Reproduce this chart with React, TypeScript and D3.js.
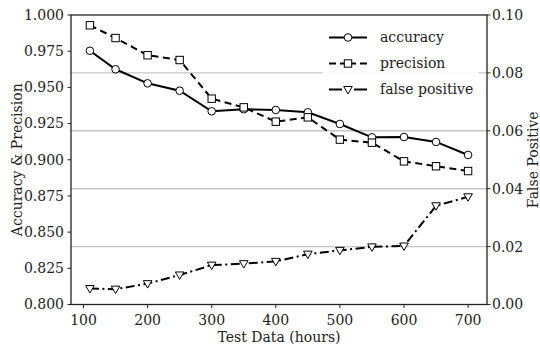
import React from "react";
import * as d3 from "d3";

const hours = [110, 150, 200, 250, 300, 350, 400, 450, 500, 550, 600, 650, 700];
const accuracy = [0.9753, 0.9625, 0.9528, 0.9477, 0.9335, 0.9349, 0.9344, 0.9328, 0.9247, 0.9155, 0.9157, 0.9123, 0.9033];
const precision = [0.9929, 0.9841, 0.9722, 0.9689, 0.9422, 0.9362, 0.9263, 0.9293, 0.9139, 0.9118, 0.8989, 0.8955, 0.8922];
const falsePositive = [0.0055, 0.0053, 0.0072, 0.0102, 0.0136, 0.0141, 0.0149, 0.0174, 0.0187, 0.0199, 0.0202, 0.0341, 0.0372];
const xTicks = [100, 200, 300, 400, 500, 600, 700];
const leftTicks = [0.8, 0.825, 0.85, 0.875, 0.9, 0.925, 0.95, 0.975, 1.0];
const rightTicks = [0.0, 0.02, 0.04, 0.06, 0.08, 0.1];

const W = 540, H = 349;
const L = 71, R = 487, T = 15, B = 304.5;
const FONT = "'DejaVu Serif', serif";
const FS = 14;

export default function App() {
  const x = d3.scaleLinear().domain([80.5, 729.5]).range([L, R]);
  const yL = d3.scaleLinear().domain([0.8, 1.0]).range([B, T]);
  const yR = d3.scaleLinear().domain([0, 0.1]).range([B, T]);

  const lineL = d3.line<number>().x((_, i) => x(hours[i])).y((d) => yL(d));
  const lineR = d3.line<number>().x((_, i) => x(hours[i])).y((d) => yR(d));

  const circle = (cx: number, cy: number, k: string) => (
    <circle key={k} cx={cx} cy={cy} r={3.8} fill="white" stroke="black" strokeWidth={1} />
  );
  const square = (cx: number, cy: number, k: string) => (
    <rect key={k} x={cx - 3.7} y={cy - 3.7} width={7.4} height={7.4} fill="white" stroke="black" strokeWidth={1} />
  );
  const tri = (cx: number, cy: number, k: string) => (
    <path key={k} d={`M${cx - 4.3},${cy - 3} L${cx + 4.3},${cy - 3} L${cx},${cy + 4.4} Z`} fill="white" stroke="black" strokeWidth={1} />
  );

  const legendItems = [
    { label: "accuracy", m: circle, y: 37.5 },
    { label: "precision", m: square, y: 63.5 },
    { label: "false positive", m: tri, y: 89.5 },
  ];

  const ts: React.CSSProperties = { fontFamily: FONT, fontSize: FS };

  return (
    <svg width={W} height={H} style={{ position: "absolute", left: 0, top: 0 }}>
      <rect width={W} height={H} fill="white" />
      {rightTicks.filter((t) => t > 0 && t < 0.1).map((t) => (
        <line key={t} x1={L} x2={R} y1={yR(t)} y2={yR(t)} stroke="#c4c4c4" strokeWidth={1.4} />
      ))}
      <path d={lineL(accuracy) || ""} fill="none" stroke="black" strokeWidth={2} />
      <path d={lineL(precision) || ""} fill="none" stroke="black" strokeWidth={2} strokeDasharray="7,4.5" />
      <path d={lineR(falsePositive) || ""} fill="none" stroke="black" strokeWidth={2} strokeDasharray="9,3.5,2,3.5" />
      {accuracy.map((v, i) => circle(x(hours[i]), yL(v), "a" + i))}
      {precision.map((v, i) => square(x(hours[i]), yL(v), "p" + i))}
      {falsePositive.map((v, i) => tri(x(hours[i]), yR(v), "f" + i))}
      <rect x={322} y={24} width={157} height={77} fill="white" fillOpacity={0.85} />
      {legendItems.map((it, i) => (
        <g key={it.label}>
          {i === 2 ? (
            <g>
              <line x1={329} x2={342} y1={it.y} y2={it.y} stroke="black" strokeWidth={2} />
              <line x1={354} x2={367} y1={it.y} y2={it.y} stroke="black" strokeWidth={2} />
            </g>
          ) : i === 1 ? (
            <g>
              <line x1={329} x2={336} y1={it.y} y2={it.y} stroke="black" strokeWidth={2} />
              <line x1={340} x2={356} y1={it.y} y2={it.y} stroke="black" strokeWidth={2} />
              <line x1={360} x2={367} y1={it.y} y2={it.y} stroke="black" strokeWidth={2} />
            </g>
          ) : (
            <line x1={329} x2={367} y1={it.y} y2={it.y} stroke="black" strokeWidth={2} />
          )}
          {it.m(348, it.y, "lm" + i)}
          <text x={380} y={it.y} dy="0.32em" style={ts} fill="#222">{it.label}</text>
        </g>
      ))}
      <rect x={L} y={T} width={R - L} height={B - T} fill="none" stroke="#222" strokeWidth={1.3} />
      {xTicks.map((t) => (
        <g key={t}>
          <line x1={x(t)} x2={x(t)} y1={B} y2={B + 3.5} stroke="#222" strokeWidth={1} />
          <text x={x(t)} y={324.5} textAnchor="middle" style={ts} fill="#222">{t}</text>
        </g>
      ))}
      <text x={(L + R) / 2} y={342} textAnchor="middle" style={ts} fill="#222">Test Data (hours)</text>
      {leftTicks.map((t) => (
        <g key={t}>
          <line x1={L - 3.5} x2={L} y1={yL(t)} y2={yL(t)} stroke="#222" strokeWidth={1} />
          <text x={L - 7} y={yL(t)} dy="0.35em" textAnchor="end" style={ts} fill="#222">{t.toFixed(3)}</text>
        </g>
      ))}
      <text transform={`translate(17,${(T + B) / 2}) rotate(-90)`} textAnchor="middle" dy="0.35em" style={ts} fill="#222">Accuracy &amp; Precision</text>
      {rightTicks.map((t) => (
        <g key={t}>
          <line x1={R} x2={R + 3.5} y1={yR(t)} y2={yR(t)} stroke="#222" strokeWidth={1} />
          <text x={R + 5} y={yR(t)} dy="0.35em" textAnchor="start" style={ts} fill="#222">{t.toFixed(2)}</text>
        </g>
      ))}
      <text transform={`translate(533,${(T + B) / 2}) rotate(-90)`} textAnchor="middle" dy="0.35em" style={ts} fill="#222">False Positive</text>
    </svg>
  );
}
